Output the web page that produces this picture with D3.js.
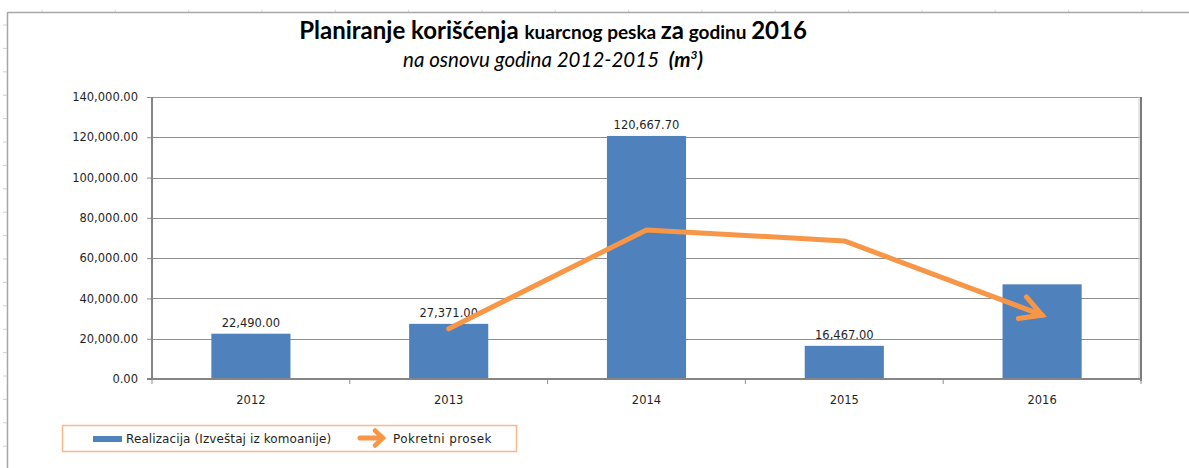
<!DOCTYPE html>
<html>
<head>
<meta charset="utf-8">
<script src="https://cdn.jsdelivr.net/npm/d3@7"></script>
<style>
  html, body { margin: 0; padding: 0; background: #fff; }
  svg { display: block; }
</style>
</head>
<body>
<svg id="chart" width="1189" height="468"></svg>
<script>
// Categories and series
const years = ["2012", "2013", "2014", "2015", "2016"];
const realizacija = [22490.00, 27371.00, 120667.70, 16467.00, 47000.00];
const labeledYears = ["2012", "2013", "2014", "2015"];
const prosekYears = ["2013", "2014", "2015", "2016"];
const pokretniProsek = [24930.5, 74019.35, 68567.35, 31733.5];
const yTicks = [0, 20000, 40000, 60000, 80000, 100000, 120000, 140000];

const svg = d3.select("#chart");
const W = 1189, H = 468;
const plot = { left: 152, right: 1141, top: 97, bottom: 379 };

const blue = "#4F81BD";
const orange = "#F79646";
const grid = "#8E8E8E";
const txt = "#1f1f1f";
const fmt = d3.format(",.2f");

// Sheet frame behind the chart object
const frame = svg.append("g");
frame.append("line").attr("x1", 8).attr("x2", W).attr("y1", 12.5).attr("y2", 12.5)
  .attr("stroke", "#a6a6a6").attr("stroke-width", 1.5);
frame.append("line").attr("x1", 7.5).attr("x2", 7.5).attr("y1", 12).attr("y2", H)
  .attr("stroke", "#a6a6a6").attr("stroke-width", 1.5);
d3.range(42, W, 73.33).forEach(x => {
  frame.append("line").attr("x1", x).attr("x2", x).attr("y1", 10).attr("y2", 12)
    .attr("stroke", "#d0d0d0").attr("stroke-width", 1);
});
d3.range(25, H, 23.4).forEach(y => {
  frame.append("line").attr("x1", 3).attr("x2", 7).attr("y1", y).attr("y2", y)
    .attr("stroke", "#d0d0d0").attr("stroke-width", 1);
});

// Scales
const x = d3.scaleBand().domain(years).range([plot.left, plot.right])
  .paddingInner(0.6).paddingOuter(0.3);
const y = d3.scaleLinear().domain([0, 140000]).range([plot.bottom, plot.top]);
const valueOf = d3.zip(years, realizacija);

// Gridlines
svg.append("g").selectAll("line").data(yTicks.filter(d => d > 0)).join("line")
  .attr("x1", plot.left).attr("x2", plot.right)
  .attr("y1", d => Math.round(y(d)) + 0.5).attr("y2", d => Math.round(y(d)) + 0.5)
  .attr("stroke", grid).attr("stroke-width", 1);

// Y axis
const yAxis = svg.append("g").attr("transform", `translate(${plot.left},0)`)
  .call(d3.axisLeft(y).tickValues(yTicks).tickFormat(fmt).tickSize(5).tickPadding(9));
yAxis.select(".domain").remove();
yAxis.selectAll(".tick line").attr("stroke", grid);
yAxis.selectAll(".tick text").attr("fill", txt)
  .style("font-family", "'DejaVu Sans', sans-serif").style("font-size", "11.5px");

// Bars
svg.append("g").selectAll("rect").data(valueOf).join("rect")
  .attr("x", d => x(d[0]))
  .attr("width", x.bandwidth())
  .attr("y", d => y(d[1]))
  .attr("height", d => y(0) - y(d[1]))
  .attr("fill", blue);

// Plot area border
svg.append("line").attr("x1", plot.left).attr("x2", plot.right)
  .attr("y1", plot.top + 0.5).attr("y2", plot.top + 0.5).attr("stroke", "#9a9a9a");
svg.append("line").attr("x1", plot.right).attr("x2", plot.right)
  .attr("y1", plot.top).attr("y2", plot.bottom + 2).attr("stroke", "#7a7a7a").attr("stroke-width", 2);
svg.append("line").attr("x1", plot.right - 2).attr("x2", plot.right - 2)
  .attr("y1", plot.top).attr("y2", plot.bottom).attr("stroke", "#cfcfcf").attr("stroke-width", 1);
svg.append("line").attr("x1", plot.left).attr("x2", plot.left)
  .attr("y1", plot.top).attr("y2", plot.bottom + 1).attr("stroke", "#858585").attr("stroke-width", 2);

// X axis
const xEdges = d3.range(years.length + 1).map(i => plot.left + i * x.step());
svg.append("g").selectAll("line").data(xEdges).join("line")
  .attr("x1", d => d).attr("x2", d => d)
  .attr("y1", plot.bottom).attr("y2", plot.bottom + 5)
  .attr("stroke", grid);
svg.append("line").attr("x1", plot.left - 5).attr("x2", plot.right)
  .attr("y1", plot.bottom).attr("y2", plot.bottom)
  .attr("stroke", "#858585").attr("stroke-width", 2);
svg.append("g").selectAll("text").data(years).join("text")
  .attr("x", d => x(d) + x.bandwidth() / 2)
  .attr("y", 404)
  .attr("text-anchor", "middle")
  .attr("fill", txt)
  .style("font-family", "'DejaVu Sans', sans-serif").style("font-size", "11.5px")
  .text(d => d);

// Value labels
svg.append("g").selectAll("text").data(valueOf.filter(d => labeledYears.includes(d[0]))).join("text")
  .attr("x", d => x(d[0]) + x.bandwidth() / 2)
  .attr("y", d => y(d[1]) - 7)
  .attr("text-anchor", "middle")
  .attr("fill", txt)
  .style("font-family", "'DejaVu Sans', sans-serif").style("font-size", "11.5px")
  .text(d => fmt(d[1]));

// Moving average with open arrowhead
const pts = d3.zip(prosekYears, pokretniProsek).map(d => [x(d[0]) + x.bandwidth() / 2, y(d[1])]);
const line = d3.line();
svg.append("path").attr("d", line(pts))
  .attr("fill", "none").attr("stroke", orange).attr("stroke-width", 5)
  .attr("stroke-linejoin", "round").attr("stroke-linecap", "round");

function chevron(g, from, to, len, spread, width) {
  const a = Math.atan2(to[1] - from[1], to[0] - from[0]) + Math.PI;
  const p1 = [to[0] + len * Math.cos(a + spread), to[1] + len * Math.sin(a + spread)];
  const p2 = [to[0] + len * Math.cos(a - spread), to[1] + len * Math.sin(a - spread)];
  g.append("path").attr("d", d3.line()([p1, to, p2]))
    .attr("fill", "none").attr("stroke", orange).attr("stroke-width", width)
    .attr("stroke-linejoin", "miter").attr("stroke-linecap", "round");
}
chevron(svg, pts[pts.length - 2], pts[pts.length - 1], 24, 0.5, 5);

// Title
const title = svg.append("text").attr("x", 553).attr("y", 39).attr("text-anchor", "middle")
  .attr("fill", "#000").style("font-family", "Lato, 'Open Sans', sans-serif").style("font-weight", "bold");
title.append("tspan").style("font-size", "24px").text("Planiranje korišćenja ");
title.append("tspan").style("font-size", "19px").text(" kuarcnog peska ");
title.append("tspan").style("font-size", "24px").text("za");
title.append("tspan").style("font-size", "19px").text(" godinu ");
title.append("tspan").style("font-size", "24px").text("2016");

const sub = svg.append("text").attr("x", 553).attr("y", 67).attr("text-anchor", "middle")
  .attr("fill", "#000").style("font-family", "Lato, 'Open Sans', sans-serif")
  .style("font-style", "italic").style("font-size", "20.5px");
sub.append("tspan").text("na osnovu godina 2012-2015 ");
sub.append("tspan").style("font-weight", "bold").attr("dx", 5).text("(m");
sub.append("tspan").style("font-weight", "bold").style("font-size", "12px").attr("dy", -8).text("3");
sub.append("tspan").style("font-weight", "bold").attr("dy", 8).text(")");

// Legend
const lg = svg.append("g");
lg.append("rect").attr("x", 62.5).attr("y", 425.5).attr("width", 454).attr("height", 26)
  .attr("fill", "#fff").attr("stroke", "#F8B88B").attr("stroke-width", 1.5);
lg.append("rect").attr("x", 93).attr("y", 436).attr("width", 29).attr("height", 6).attr("fill", blue);
lg.append("text").attr("x", 126).attr("y", 443).attr("fill", txt)
  .style("font-family", "'DejaVu Sans', sans-serif").style("font-size", "12px")
  .style("letter-spacing", "0.1px")
  .text("Realizacija (Izveštaj iz komoanije)");
lg.append("line").attr("x1", 360).attr("x2", 381).attr("y1", 438).attr("y2", 438)
  .attr("stroke", orange).attr("stroke-width", 5).attr("stroke-linecap", "round");
chevron(lg, [360, 438], [383, 438], 11, 0.75, 4.5);
lg.append("text").attr("x", 393).attr("y", 443).attr("fill", txt)
  .style("font-family", "'DejaVu Sans', sans-serif").style("font-size", "12px")
  .style("letter-spacing", "0.4px")
  .text("Pokretni prosek");
</script>
</body>
</html>
